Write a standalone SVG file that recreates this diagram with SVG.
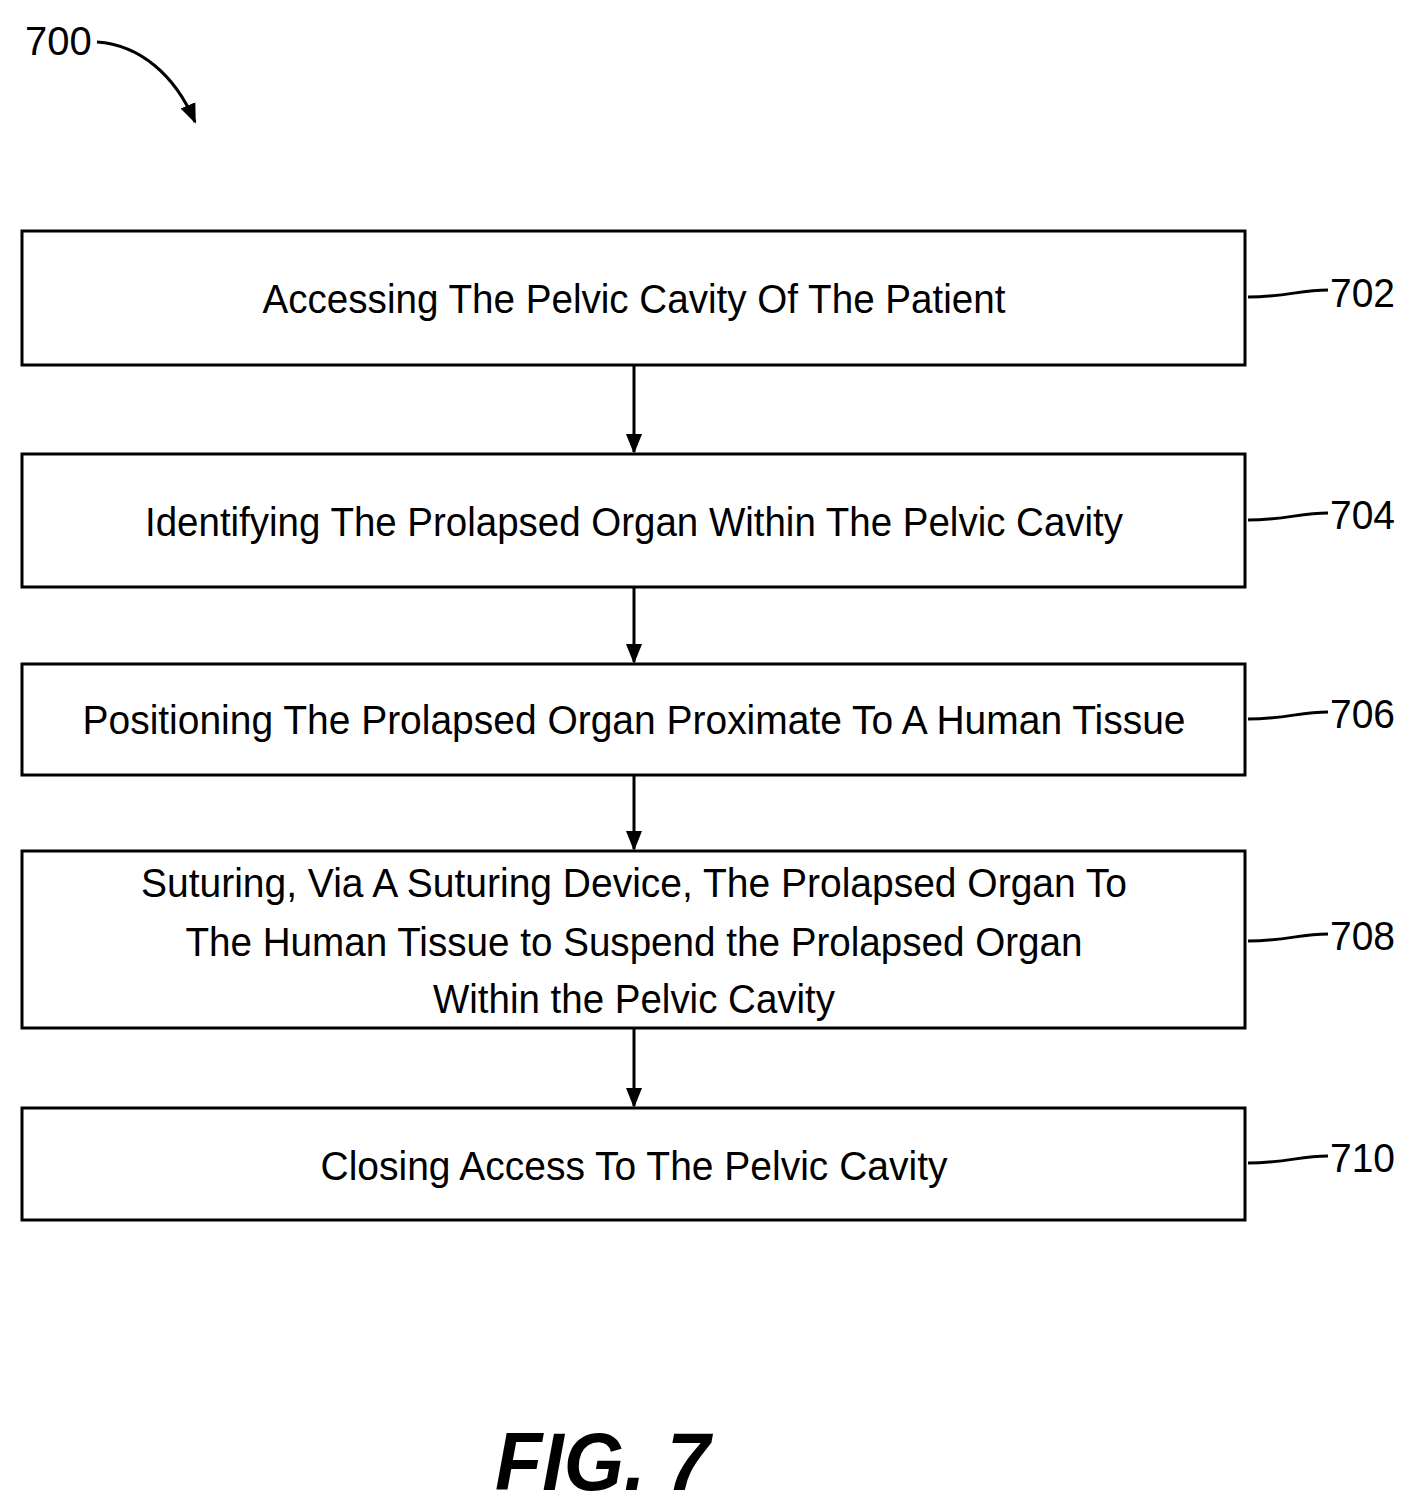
<svg xmlns="http://www.w3.org/2000/svg" width="1415" height="1512" viewBox="0 0 1415 1512">
<style>
.box{fill:#fff;stroke:#000;stroke-width:3}
.t{font-family:"Liberation Sans Narrow","Liberation Sans",Arial,sans-serif;font-size:40px;fill:#000;text-anchor:middle}
.ref{font-family:"Liberation Sans Narrow","Liberation Sans",Arial,sans-serif;font-size:40px;fill:#000}
.ln{fill:none;stroke:#000;stroke-width:3}
</style>
<defs>
<marker id="ah" markerWidth="8" markerHeight="10" refX="8" refY="5" orient="auto" markerUnits="userSpaceOnUse" viewBox="0 0 8 10"><path d="M0,0 L8,5 L0,10 z" fill="#000"/></marker>
<marker id="a2" viewBox="0 0 20 20" refX="18" refY="10" markerWidth="20" markerHeight="20" orient="auto" markerUnits="userSpaceOnUse"><path d="M0,2 L20,10 L0,18 z" fill="#000"/></marker>
</defs>
<g id="n700">
<text class="ref" x="25" y="55">700</text>
<path class="ln" d="M97,42 C140,45 175,75 195,122" marker-end="url(#a2)"/>
</g>
<g id="n702"><rect class="box" x="22" y="231" width="1223" height="134"/><text class="t" x="634" y="313" textLength="743" lengthAdjust="spacingAndGlyphs">Accessing The Pelvic Cavity Of The Patient</text><path class="ln" d="M1248,297 C1285,297 1300,290 1328,290"/><text class="ref" x="1330" y="307" textLength="65" lengthAdjust="spacingAndGlyphs">702</text></g>
<g id="n704"><rect class="box" x="22" y="454" width="1223" height="133"/><text class="t" x="634" y="536" textLength="978" lengthAdjust="spacingAndGlyphs">Identifying The Prolapsed Organ Within The Pelvic Cavity</text><path class="ln" d="M1248,520 C1285,520 1300,513 1328,513"/><text class="ref" x="1330" y="529" textLength="65" lengthAdjust="spacingAndGlyphs">704</text></g>
<g id="n706"><rect class="box" x="22" y="664" width="1223" height="111"/><text class="t" x="634" y="734" textLength="1103" lengthAdjust="spacingAndGlyphs">Positioning The Prolapsed Organ Proximate To A Human Tissue</text><path class="ln" d="M1248,719 C1285,719 1300,712 1328,712"/><text class="ref" x="1330" y="728" textLength="65" lengthAdjust="spacingAndGlyphs">706</text></g>
<g id="n708"><rect class="box" x="22" y="851" width="1223" height="177"/>
<text class="t" x="634" y="897" textLength="986" lengthAdjust="spacingAndGlyphs">Suturing, Via A Suturing Device, The Prolapsed Organ To</text>
<text class="t" x="634" y="956" textLength="897" lengthAdjust="spacingAndGlyphs">The Human Tissue to Suspend the Prolapsed Organ</text>
<text class="t" x="634" y="1013" textLength="402" lengthAdjust="spacingAndGlyphs">Within the Pelvic Cavity</text>
<path class="ln" d="M1248,941 C1285,941 1300,934 1328,934"/><text class="ref" x="1330" y="950" textLength="65" lengthAdjust="spacingAndGlyphs">708</text></g>
<g id="n710"><rect class="box" x="22" y="1108" width="1223" height="112"/><text class="t" x="634" y="1180" textLength="627" lengthAdjust="spacingAndGlyphs">Closing Access To The Pelvic Cavity</text><path class="ln" d="M1248,1163 C1285,1163 1300,1156 1328,1156"/><text class="ref" x="1330" y="1172" textLength="65" lengthAdjust="spacingAndGlyphs">710</text></g>
<g id="connectors">
<line class="ln" x1="634" y1="366" x2="634" y2="452" marker-end="url(#a2)"/>
<line class="ln" x1="634" y1="588" x2="634" y2="662" marker-end="url(#a2)"/>
<line class="ln" x1="634" y1="776" x2="634" y2="849" marker-end="url(#a2)"/>
<line class="ln" x1="634" y1="1029" x2="634" y2="1106" marker-end="url(#a2)"/>
</g>
<text x="495" y="1490" font-family="Liberation Sans,Arial,sans-serif" font-size="82" font-weight="bold" font-style="italic" textLength="215" lengthAdjust="spacingAndGlyphs">FIG. 7</text>
</svg>
